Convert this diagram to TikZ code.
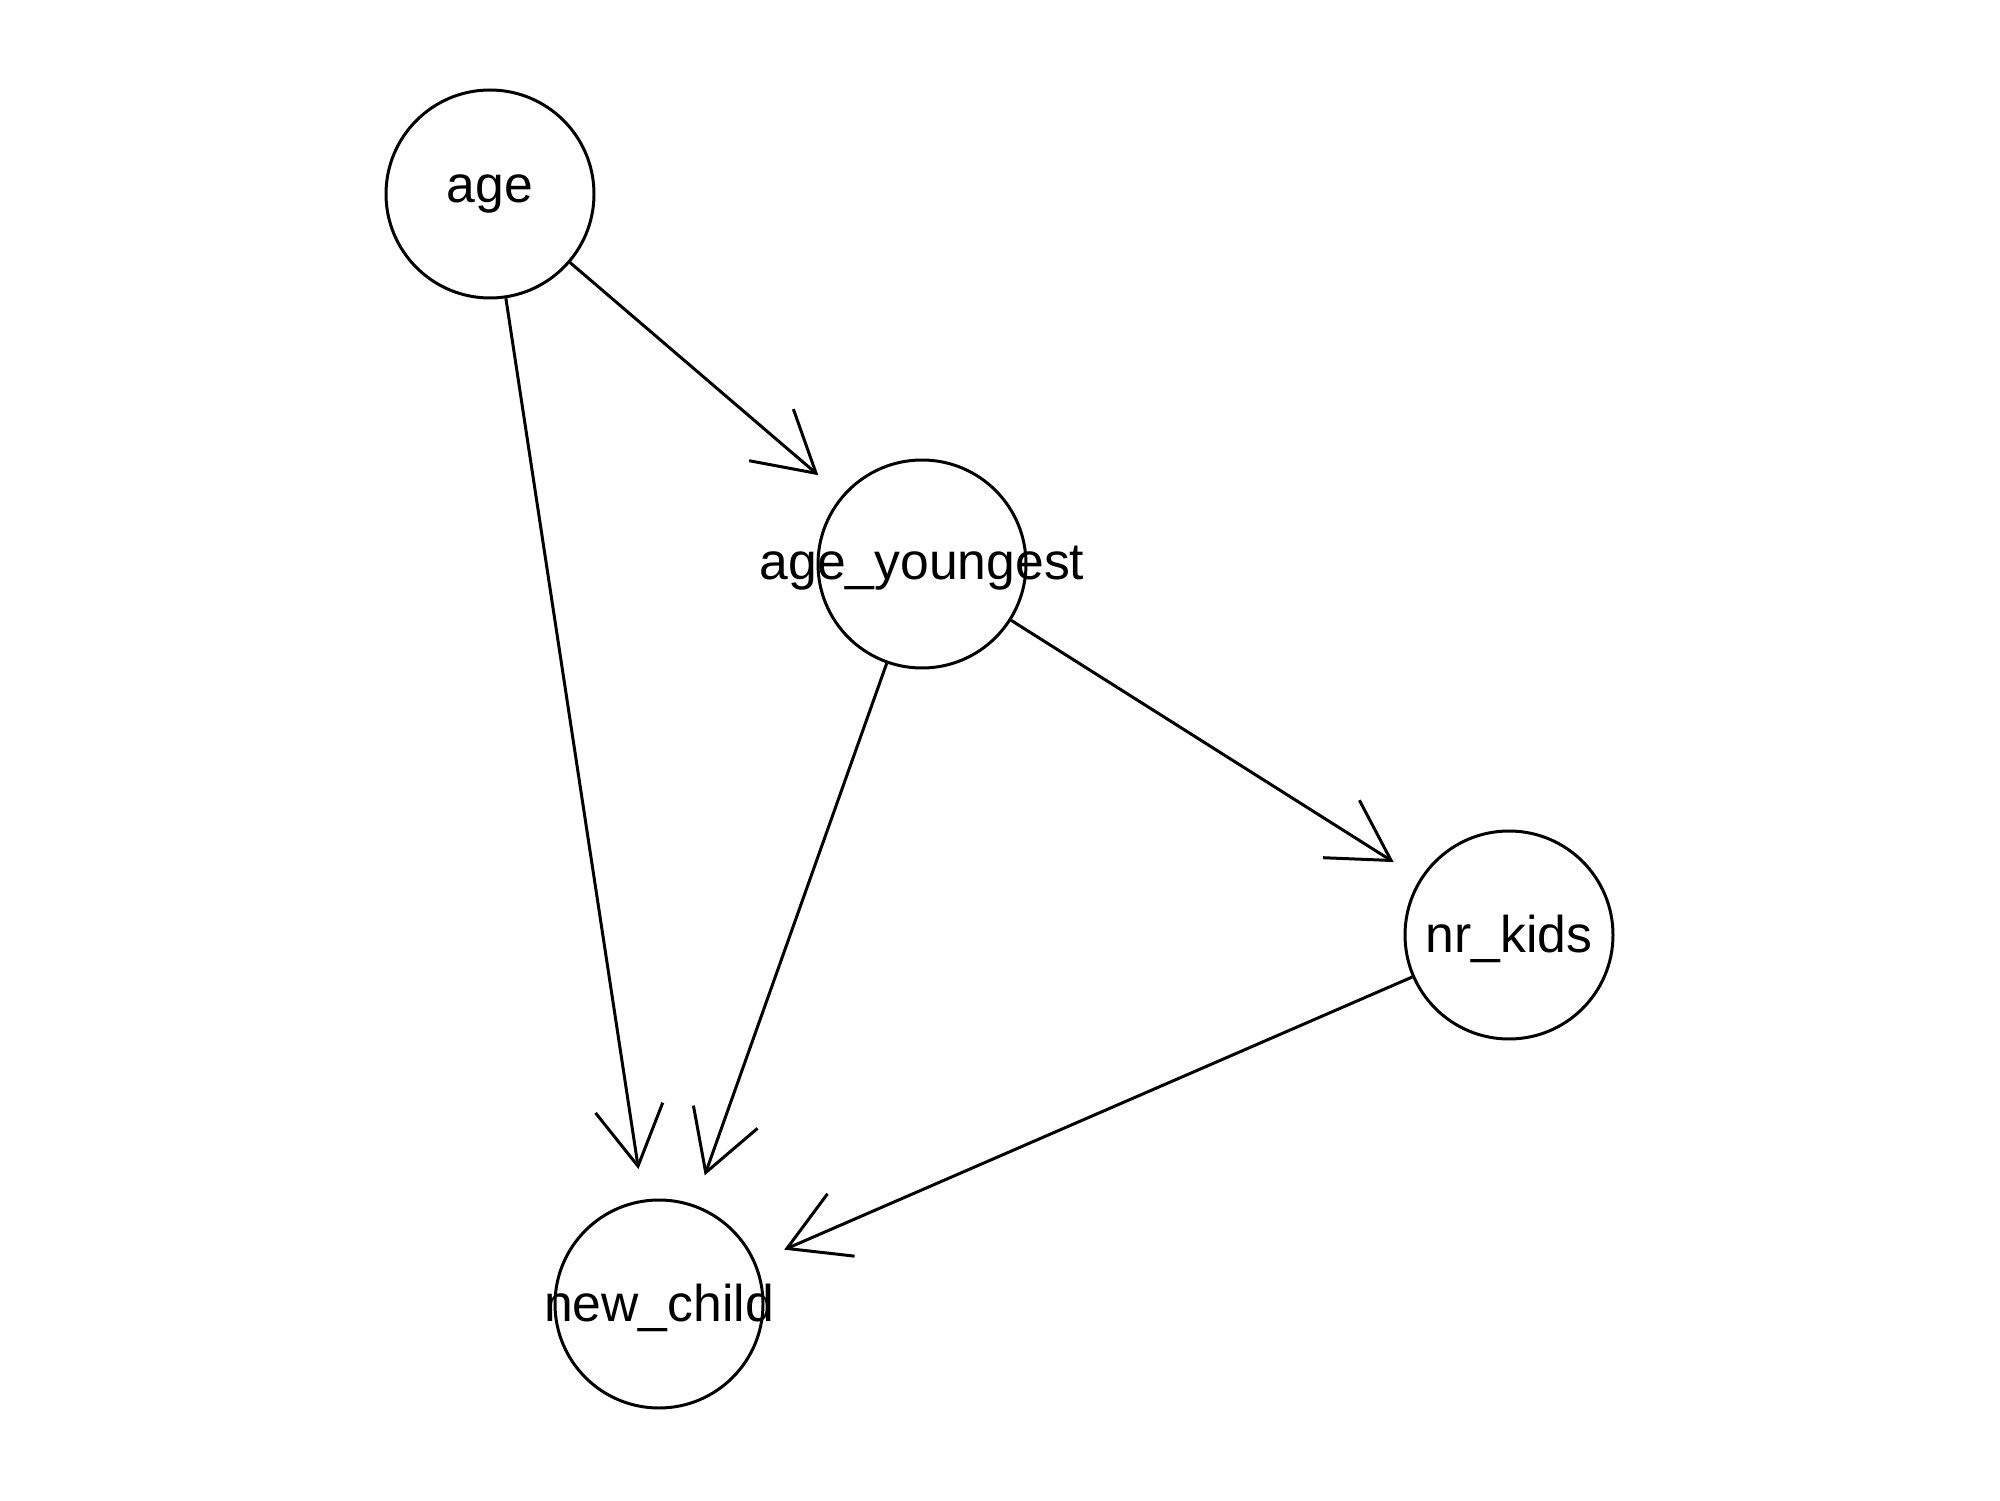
\documentclass[tikz,border=0pt]{standalone}
\usepackage{fontspec}
\setmainfont{Liberation Sans}
\usetikzlibrary{arrows.meta}

\begin{document}
\begin{tikzpicture}[
        vertex/.style={draw, circle, line width=0.85pt, minimum size=2.08cm, inner sep=0pt},
        lbl/.style={font=\fontsize{14.7}{17}\selectfont, inner sep=0pt},
        ulbl/.style={lbl, yshift=-0.4mm},
        edge/.style={line width=0.85pt, shorten >=3.1mm, -{Straight Barb[length=5.9mm, width=6.8mm, line width=0.85pt]}}
    ]
            \useasboundingbox (0,0) rectangle (20,15);

            % nodes
            \node[vertex] (age) at (4.90,13.06) {};
            \node[vertex] (youngest) at (9.22,9.36) {};
            \node[vertex] (kids) at (15.09,5.65) {};
            \node[vertex] (child) at (6.59,1.96) {};

            \node[lbl] at (age) {age};
            \node[ulbl] at (youngest) {age\_youngest};
            \node[ulbl] at (kids) {nr\_kids};
            \node[ulbl] at (child) {new\_child};

            % edges
            \draw[edge] (age) -- (youngest);
            \draw[edge] (age) -- (child);
            \draw[edge] (youngest) -- (child);
            \draw[edge] (youngest) -- (kids);
            \draw[edge] (kids) -- (child);

        \end{tikzpicture}
\end{document}
